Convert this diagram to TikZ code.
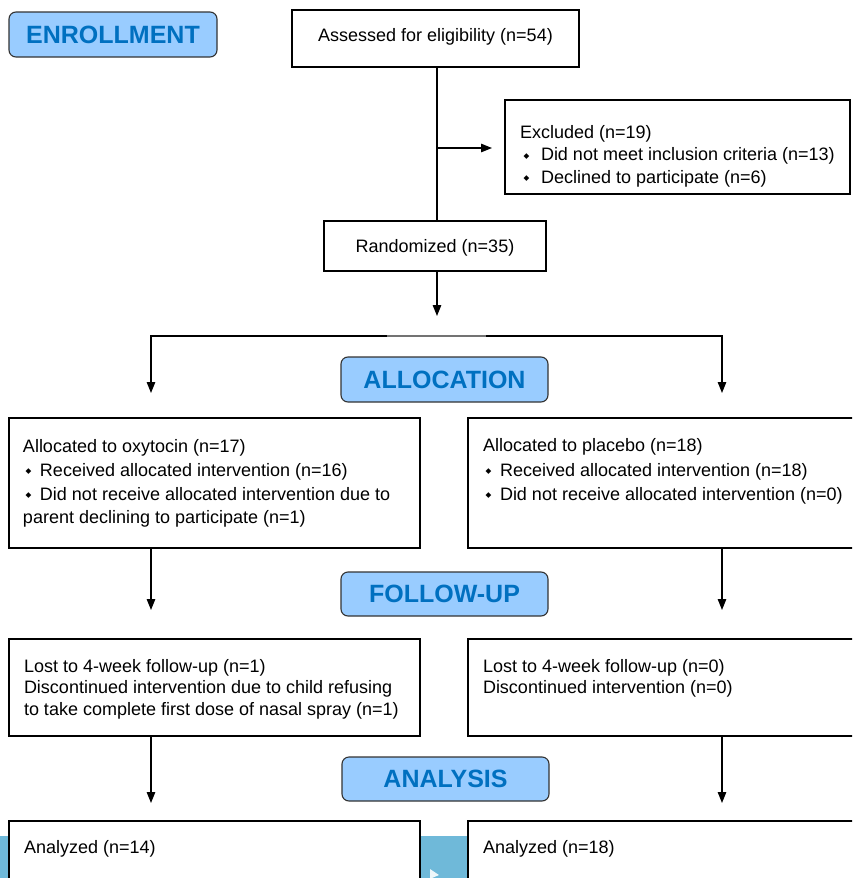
\documentclass[tikz,border=0pt]{standalone}
\usepackage{fontspec}
\setmainfont{Liberation Sans}
\newfontfamily\symfont{DejaVu Sans}
\usetikzlibrary{arrows.meta}
\definecolor{hdrfill}{RGB}{153,204,255}
\definecolor{hdrtext}{RGB}{0,112,192}
\definecolor{stripblue}{RGB}{111,185,217}
\newcommand{\bul}[2]{\makebox[#1][l]{\hspace{#2}\raisebox{2.5pt}{\symfont\fontsize{7.5}{7.5}\selectfont ◆}}}
\begin{document}
\begin{tikzpicture}[x=1pt,y=-1pt,
  box/.style={draw=black,line width=1.1pt,fill=white,rectangle,inner sep=0pt,outer sep=0pt,anchor=north west},
  hdr/.style={draw=black!80,line width=1.1pt,fill=hdrfill,rounded corners=7pt,inner sep=0pt,outer sep=0pt,anchor=north west,
    text=hdrtext,font=\bfseries\fontsize{25}{25}\selectfont},
  txt/.style={inner sep=0pt,outer sep=0pt,font=\fontsize{18}{21.5}\selectfont,anchor=base west},
  ctxt/.style={txt,anchor=base},
  conn/.style={line width=1.2pt,draw=black},
  arr/.style={conn,-{Triangle[length=11pt,width=8.5pt]}}]
\useasboundingbox (0,0) rectangle (852,878);
\clip (0,0) rectangle (852,878);
\fill[stripblue] (0,836) rectangle (852,878);
\fill[white!88!stripblue] (430,869) -- (439,875) -- (432,878) -- (430,878) -- cycle;

% headers
\node[hdr,minimum width=208pt,minimum height=45pt] (enr) at (9,12) {ENROLLMENT};
\node[hdr,minimum width=207pt,minimum height=45pt] (allochdr) at (341,357) {ALLOCATION};
\node[hdr,minimum width=207pt,minimum height=44pt] (followhdr) at (341,572) {FOLLOW-UP};
\node[hdr,minimum width=207pt,minimum height=44pt] (analhdr) at (342,757) {ANALYSIS};

% boxes
\node[box,minimum width=287pt,minimum height=57pt] (assess) at (292,10) {};
\node[ctxt] (assesst) at (435.5,41) {Assessed for eligibility (n=54)};

\node[box,minimum width=345pt,minimum height=94pt] (excl) at (505,100) {};
\node[txt] (exclt1) at (520,138) {Excluded (n=19)};
\node[txt] (exclt2) at (520,160.5) {\bul{21pt}{3.5pt}Did not meet inclusion criteria (n=13)};
\node[txt] (exclt3) at (520,183) {\bul{21pt}{3.5pt}Declined to participate (n=6)};

\node[box,minimum width=222pt,minimum height=50pt] (rand) at (324,221) {};
\node[ctxt] (randt) at (435,252) {Randomized (n=35)};

\node[box,minimum width=411pt,minimum height=130pt] (allocL) at (9,418) {};
\node[txt] (allocLt1) at (23,452) {Allocated to oxytocin (n=17)};
\node[txt] (allocLt2) at (23,476) {\bul{17pt}{2.5pt}Received allocated intervention (n=16)};
\node[txt] (allocLt3) at (23,500) {\bul{17pt}{2.5pt}Did not receive allocated intervention due to};
\node[txt] (allocLt4) at (23,523) {parent declining to participate (n=1)};

\node[box,minimum width=400pt,minimum height=130pt] (allocR) at (468,418) {};
\node[txt] (allocRt1) at (483,451) {Allocated to placebo (n=18)};
\node[txt] (allocRt2) at (483,476) {\bul{17pt}{2.5pt}Received allocated intervention (n=18)};
\node[txt] (allocRt3) at (483,500) {\bul{17pt}{2.5pt}Did not receive allocated intervention (n=0)};

\node[box,minimum width=411pt,minimum height=97pt] (lostL) at (9,639) {};
\node[txt] (lostLt1) at (24,672) {Lost to 4-week follow-up (n=1)};
\node[txt] (lostLt2) at (24,693.5) {Discontinued intervention due to child refusing};
\node[txt] (lostLt3) at (24,715) {to take complete first dose of nasal spray (n=1)};

\node[box,minimum width=400pt,minimum height=97pt] (lostR) at (468,639) {};
\node[txt] (lostRt1) at (483,672) {Lost to 4-week follow-up (n=0)};
\node[txt] (lostRt2) at (483,693.5) {Discontinued intervention (n=0)};

\node[box,minimum width=411pt,minimum height=80pt] (anaL) at (9,821) {};
\node[txt] (anaLt) at (24,853) {Analyzed (n=14)};
\node[box,minimum width=400pt,minimum height=80pt] (anaR) at (468,821) {};
\node[txt] (anaRt) at (483,853) {Analyzed (n=18)};

% connectors
\coordinate (v1) at (437,148);
\draw[conn] (assess.south -| v1) -- (rand.north -| v1);
\draw[arr,shorten >=13pt] (v1) -- (v1 -| excl.west);
\coordinate (rtip) at (437,316);
\draw[arr] (rand.south -| rtip) -- (rtip);
\coordinate (sl) at (151,336);
\coordinate (sr) at (722,336);
\coordinate (al) at (151,393);
\coordinate (ar) at (722,393);
\draw[conn,{Triangle[length=11pt,width=8.5pt]}-{Triangle[length=11pt,width=8.5pt]}] (al) -- (sl) -- (sr) -- (ar);
\draw[line width=1.2pt,black!55] (387,336) -- (486,336);
\coordinate (fl) at (151,610);
\coordinate (fr) at (722,610);
\draw[arr] (allocL.south -| fl) -- (fl);
\draw[arr] (allocR.south -| fr) -- (fr);
\coordinate (gl) at (151,803);
\coordinate (gr) at (722,803);
\draw[arr] (lostL.south -| gl) -- (gl);
\draw[arr] (lostR.south -| gr) -- (gr);
\end{tikzpicture}
\end{document}
